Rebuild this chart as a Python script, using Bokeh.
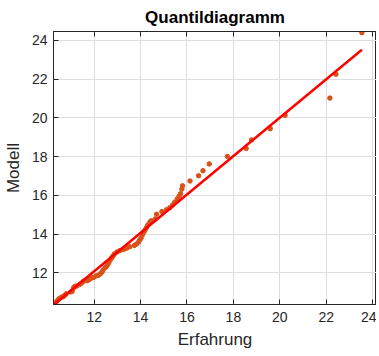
from bokeh.plotting import figure
from bokeh.models import Range1d, FixedTicker, LinearAxis, CustomJSTickFormatter
from bokeh.embed import file_html
from bokeh.resources import INLINE

# Quantile pairs (sorted)
erfahrung = [10.27, 10.37, 10.44, 10.50, 10.59, 10.67, 10.73, 10.79, 10.99, 11.05,
             11.11, 11.16, 11.25, 11.37, 11.45, 11.54, 11.71, 11.80, 11.89, 11.97,
             12.09, 12.18, 12.26, 12.32, 12.37, 12.46, 12.52, 12.58, 12.63, 12.69,
             12.75, 12.81, 12.87, 12.98, 13.10, 13.24, 13.33, 13.41, 13.53, 13.73,
             13.82, 13.91, 13.96, 14.02, 14.08, 14.14, 14.19, 14.25, 14.31, 14.40,
             14.45, 14.63, 14.69, 14.92, 15.12, 15.26, 15.38, 15.47, 15.58, 15.66,
             15.72, 15.78, 15.81, 16.13, 16.50, 16.69, 16.96, 17.74, 18.55, 18.78,
             19.59, 20.23, 22.16, 22.42, 23.54]
modell = [10.36, 10.50, 10.60, 10.67, 10.74, 10.77, 10.84, 10.91, 11.01, 11.04,
          11.22, 11.29, 11.32, 11.39, 11.46, 11.56, 11.59, 11.66, 11.73, 11.76,
          11.84, 11.87, 11.94, 12.02, 12.11, 12.25, 12.31, 12.42, 12.53, 12.66,
          12.76, 12.86, 12.97, 13.07, 13.14, 13.20, 13.24, 13.28, 13.34, 13.41,
          13.48, 13.58, 13.69, 13.79, 13.96, 14.10, 14.20, 14.33, 14.47, 14.61,
          14.68, 14.78, 15.02, 15.16, 15.26, 15.36, 15.50, 15.64, 15.81, 15.95,
          16.08, 16.32, 16.49, 16.74, 17.01, 17.27, 17.62, 18.01, 18.42, 18.86,
          19.44, 20.13, 21.02, 22.25, 24.40]

# Reference line end points
line_x = [10.27, 23.54]
line_y = [10.36, 23.52]

x_ticks = [12, 14, 16, 18, 20, 22, 24]
y_ticks = [12, 14, 16, 18, 20, 22, 24]

FONT = "Liberation Sans"
DARK = "#262626"

p = figure(frame_width=323, frame_height=273,
           x_range=Range1d(10.245, 24.17), y_range=Range1d(10.36, 24.46),
           output_backend="svg", toolbar_location=None,
           min_border_left=48, min_border_right=0, min_border_top=23, min_border_bottom=52,
           title="Quantildiagramm")

p.title.text_font = FONT
p.title.text_font_size = "17px"
p.title.text_font_style = "bold"
p.title.text_color = "#000000"
p.title.align = "center"

p.scatter(erfahrung, modell, size=4.5, color="#D95319", line_color="#D95319")
p.line(line_x, line_y, line_color="#FF0000", line_width=2.5)

for ax in (p.xaxis[0], p.yaxis[0]):
    ax.axis_line_color = DARK
    ax.major_tick_line_color = DARK
    ax.major_tick_in = 5
    ax.major_tick_out = 0
    ax.minor_tick_line_color = None
    ax.major_label_text_font = FONT
    ax.major_label_text_font_size = "14px"
    ax.major_label_text_color = DARK
    ax.axis_label_text_font = FONT
    ax.axis_label_text_font_size = "17px"
    ax.axis_label_text_font_style = "normal"
    ax.axis_label_text_color = DARK

p.xaxis[0].ticker = FixedTicker(ticks=x_ticks)
p.yaxis[0].ticker = FixedTicker(ticks=y_ticks)
p.xaxis[0].axis_label = "Erfahrung"
p.yaxis[0].axis_label = "Modell"
p.xaxis[0].major_label_standoff = 7
p.xaxis[0].axis_label_standoff = 5
p.yaxis[0].major_label_standoff = 6
p.yaxis[0].axis_label_standoff = 6

# top axis: tick marks only, no labels (box style)
top = LinearAxis(ticker=FixedTicker(ticks=x_ticks), major_tick_in=5, major_tick_out=0,
                 formatter=CustomJSTickFormatter(code="return '';"),
                 major_label_standoff=0,
                 axis_line_color=DARK, major_tick_line_color=DARK, minor_tick_line_color=None)
p.add_layout(top, "above")

p.outline_line_color = DARK
p.grid.grid_line_color = "#dedede"
p.grid.grid_line_alpha = 1.0
p.xgrid.ticker = FixedTicker(ticks=x_ticks)
p.ygrid.ticker = FixedTicker(ticks=y_ticks)
p.background_fill_color = "white"
p.border_fill_color = "white"

open("out.html", "w").write(file_html(p, INLINE))
